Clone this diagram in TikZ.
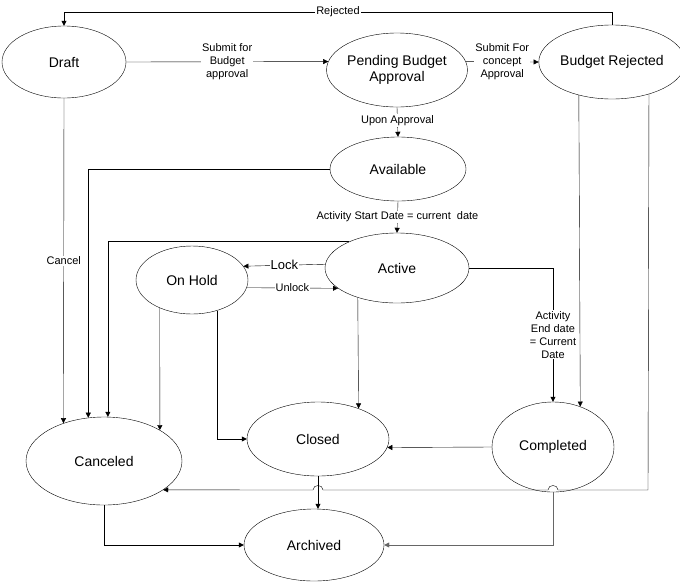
\documentclass[tikz,border=0pt]{standalone}
\usepackage{fontspec}
\setmainfont{Liberation Sans}
\usetikzlibrary{shapes.geometric,arrows.meta}

\tikzset{
  state/.style={draw,ellipse,inner sep=0pt,align=center,font=\fontsize{14}{16}\selectfont},
  lbl/.style={fill=white,inner sep=1pt,align=center,font=\fontsize{11}{13}\selectfont},
  flow/.style={-{Triangle[length=5pt,width=5pt]},draw=black}
}

\begin{document}
\begin{tikzpicture}[x=1pt,y=-1pt]
    \useasboundingbox (0,0) rectangle (680,582);

    \node[state,minimum width=124pt,minimum height=72pt] (Dr) at (64,62) {Draft};
    \node[state,minimum width=134pt,minimum height=74pt] (PeBu) at (397,70) {Pending Budget\\Approval};
    \node[state,minimum width=134pt,minimum height=74pt] (BuRe) at (612,62) {Budget Rejected};

    \node[state,minimum width=136pt,minimum height=64pt] (Av) at (398,169) {Available};
    \node[state,minimum width=144pt,minimum height=70pt] (Ac) at (397,268) {Active};
    \node[state,minimum width=112pt,minimum height=68pt] (OnHo) at (192,280) {On Hold};

    \node[state,minimum width=142pt,minimum height=74pt] (Cl) at (318,439) {Closed};
    \node[state,minimum width=156pt,minimum height=88pt] (Ca) at (104,461) {Canceled};
    \node[state,minimum width=122pt,minimum height=90pt] (Co) at (553,447) {Completed};
    \node[state,minimum width=140pt,minimum height=72pt] (Ar) at (314,545) {Archived};

    \draw[flow] (BuRe.north) -- (612,12) -- node[lbl] {Rejected} (64,12) -- (Dr.north);
    \draw[flow] (Dr.east) -- node[lbl] {Submit for\\Budget\\approval} (PeBu.173);
    \draw[flow] (PeBu.7) -- node[lbl] {Submit For\\concept\\Approval} (BuRe.west);
    \draw[flow] (PeBu.south) -- node[lbl,pos=0.45] {Upon Approval} (Av.north);
    \draw[flow] (Av.south) -- node[lbl] {Activity Start Date = current\ \ date} (Ac.north);

    \draw[flow] (Dr.south) -- node[lbl] {Cancel} (Ca.137);
    \draw[flow] (Av.west) -| (Ca.110);
    \draw[flow] (Ac.151) -| (Ca.85);

    \draw[flow] (Ac.177) -- node[lbl,font=\fontsize{13}{15}\selectfont] {Lock} (OnHo.15);
    \draw[flow] (OnHo.-8) -- node[lbl] {Unlock} (Ac.199);

    \draw[flow] (OnHo.-139) -- (Ca.29);
    \draw[flow] (OnHo.-51) |- (Cl.west);
    \draw[flow] (Ac.217) -- (Cl.37);
    \draw[flow] (Ac.east) -| node[lbl,pos=0.75] {Activity\\End date\\= Current\\Date} (Co.north);
    \draw[flow] (BuRe.225) -- (Co.56);
    \draw[flow] (Co.west) -- (Cl.-7);

    \draw[flow] (BuRe.-41) -- (648,490) -- (558,490)
        .. controls (558,484) and (548,484) .. (548,490) -- (323,490)
        .. controls (323,484) and (313,484) .. (313,490) -- (Ca.-26);

    \draw[flow] (Cl.south) -- (Cl.south |- Ar.north);
    \draw[flow,draw=gray!80!black] (Co.south) |- (Ar.east);
    \draw[flow] (Ca.south) |- (Ar.west);

\end{tikzpicture}
\end{document}
